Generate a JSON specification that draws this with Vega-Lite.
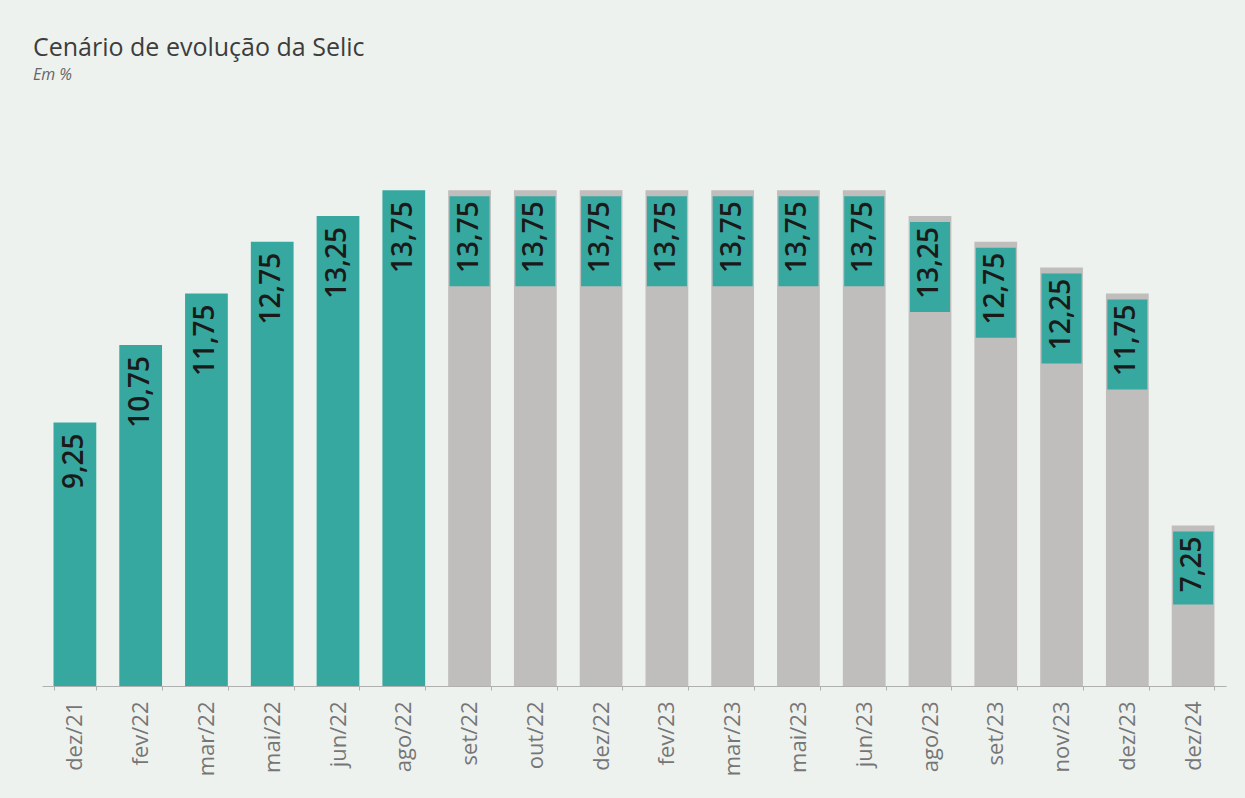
{
  "$schema": "https://vega.github.io/schema/vega-lite/v6.json",
  "width": 1184,
  "height": 536,
  "autosize": {"type": "none"},
  "padding": {"left": 42, "top": 150, "right": 19, "bottom": 112},
  "background": "#eef2ef",
  "title": {
    "text": "Cenário de evolução da Selic",
    "subtitle": "Em %",
    "anchor": "start",
    "frame": "group",
    "dx": -9,
    "offset": 67,
    "font": "Open Sans",
    "fontSize": 25,
    "fontWeight": "normal",
    "color": "#3d3d3d",
    "subtitleFont": "Open Sans",
    "subtitleFontSize": 16,
    "subtitleFontStyle": "italic",
    "subtitleColor": "#666666",
    "subtitlePadding": 6
  },
  "config": {
    "view": {"stroke": null},
    "axis": {"grid": false}
  },
  "data": {
    "values": [
      {"mes": "dez/21", "valor": 9.25, "rotulo": "9,25", "tipo": "real"},
      {"mes": "fev/22", "valor": 10.75, "rotulo": "10,75", "tipo": "real"},
      {"mes": "mar/22", "valor": 11.75, "rotulo": "11,75", "tipo": "real"},
      {"mes": "mai/22", "valor": 12.75, "rotulo": "12,75", "tipo": "real"},
      {"mes": "jun/22", "valor": 13.25, "rotulo": "13,25", "tipo": "real"},
      {"mes": "ago/22", "valor": 13.75, "rotulo": "13,75", "tipo": "real"},
      {"mes": "set/22", "valor": 13.75, "rotulo": "13,75", "tipo": "proj"},
      {"mes": "out/22", "valor": 13.75, "rotulo": "13,75", "tipo": "proj"},
      {"mes": "dez/22", "valor": 13.75, "rotulo": "13,75", "tipo": "proj"},
      {"mes": "fev/23", "valor": 13.75, "rotulo": "13,75", "tipo": "proj"},
      {"mes": "mar/23", "valor": 13.75, "rotulo": "13,75", "tipo": "proj"},
      {"mes": "mai/23", "valor": 13.75, "rotulo": "13,75", "tipo": "proj"},
      {"mes": "jun/23", "valor": 13.75, "rotulo": "13,75", "tipo": "proj"},
      {"mes": "ago/23", "valor": 13.25, "rotulo": "13,25", "tipo": "proj"},
      {"mes": "set/23", "valor": 12.75, "rotulo": "12,75", "tipo": "proj"},
      {"mes": "nov/23", "valor": 12.25, "rotulo": "12,25", "tipo": "proj"},
      {"mes": "dez/23", "valor": 11.75, "rotulo": "11,75", "tipo": "proj"},
      {"mes": "dez/24", "valor": 7.25, "rotulo": "7,25", "tipo": "proj"}
    ]
  },
  "encoding": {
    "x": {
      "field": "mes",
      "type": "nominal",
      "sort": null,
      "scale": {"paddingInner": 0.35, "paddingOuter": 0.175},
      "axis": {
        "title": null,
        "labelAngle": -90,
        "labelFont": "Open Sans",
        "labelFontSize": 22,
        "labelColor": "#767676",
        "labelPadding": 11,
        "tickBand": "extent",
        "tickSize": 4,
        "tickColor": "#b0b0b0",
        "domainColor": "#b0b0b0",
        "domainWidth": 1
      }
    },
    "y": {
      "field": "valor",
      "type": "quantitative",
      "scale": {"domain": [4.14, 14.53], "zero": false, "nice": false},
      "axis": null
    }
  },
  "layer": [
    {
      "mark": {"type": "bar"},
      "encoding": {
        "y2": {"datum": 4.14},
        "color": {
          "field": "tipo",
          "type": "nominal",
          "scale": {"domain": ["real", "proj"], "range": ["#37a89f", "#c0bdbd"]},
          "legend": null
        }
      }
    },
    {
      "transform": [{"filter": "datum.tipo == 'proj' && datum.valor >= 10"}],
      "mark": {"type": "tick", "orient": "vertical", "size": 90, "thickness": 40, "color": "#37a89f", "yOffset": 51, "opacity": 1}
    },
    {
      "transform": [{"filter": "datum.tipo == 'proj' && datum.valor < 10"}],
      "mark": {"type": "tick", "orient": "vertical", "size": 73, "thickness": 40, "color": "#37a89f", "yOffset": 42.5, "opacity": 1}
    },
    {
      "mark": {
        "type": "text",
        "angle": 270,
        "align": "right",
        "baseline": "middle",
        "font": "Open Sans",
        "fontSize": 28,
        "fontWeight": 600,
        "color": "#1a1a1a",
        "yOffset": 11
      },
      "encoding": {"text": {"field": "rotulo"}}
    }
  ]
}
